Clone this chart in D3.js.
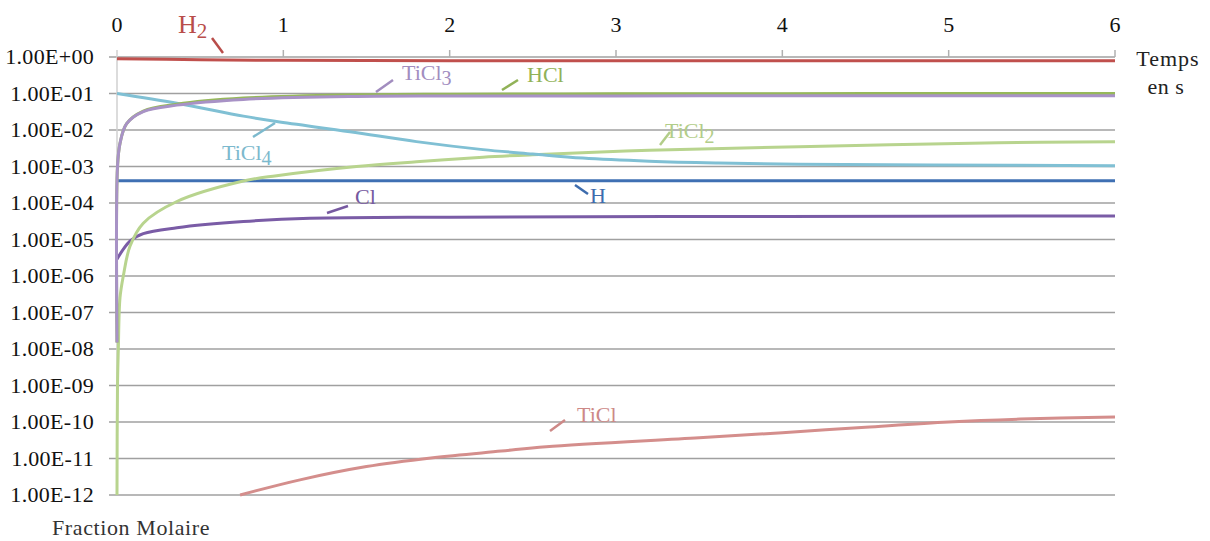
<!DOCTYPE html>
<html>
<head>
<meta charset="utf-8">
<script src="https://cdn.jsdelivr.net/npm/d3@7"></script>
<style>
  html, body { margin: 0; padding: 0; background: #fff; }
  svg { display: block; }
</style>
</head>
<body>
<svg id="chart" width="1210" height="541"></svg>
<script>
// ---------- DATA ----------
const xTicks = [0, 1, 2, 3, 4, 5, 6];
const yTickExps = [0, -1, -2, -3, -4, -5, -6, -7, -8, -9, -10, -11, -12];
const yTickLabels = ["1.00E+00","1.00E-01","1.00E-02","1.00E-03","1.00E-04","1.00E-05","1.00E-06",
                     "1.00E-07","1.00E-08","1.00E-09","1.00E-10","1.00E-11","1.00E-12"];

const tH2 = [0, 0.5, 1, 2, 4, 6];
const vH2 = [0.9, 0.84, 0.81, 0.79, 0.787, 0.785];

const tHCl = [0, 0.003, 0.018, 0.058, 0.158, 0.36, 0.76, 1.44, 2, 3, 4, 5, 6];
const vHCl = [1.5e-8, 1e-3, 4.3e-3, 0.015, 0.033, 0.051, 0.075, 0.092, 0.096, 0.098, 0.099, 0.1, 0.1];

const tTiCl3 = [0, 0.003, 0.018, 0.058, 0.158, 0.36, 0.76, 1.44, 2, 3, 4, 5, 6];
const vTiCl3 = [1.5e-8, 1e-3, 4.3e-3, 0.015, 0.032, 0.048, 0.069, 0.083, 0.085, 0.086, 0.087, 0.087, 0.087];

const tTiCl4 = [0, 0.36, 0.76, 0.96, 1.4, 1.8, 2.2, 2.5, 2.8, 3.2, 3.6, 4.1, 4.9, 6];
const vTiCl4 = [0.1, 0.054, 0.024, 0.017, 0.009, 0.0048, 0.0029, 0.0022, 0.0017, 0.0014, 0.00125, 0.00115, 0.0011, 0.00105];

const tTiCl2 = [0, 0.003, 0.008, 0.018, 0.038, 0.078, 0.158, 0.36, 0.76, 0.96, 1.44, 1.8, 2.2, 2.5, 3.2, 4.1, 5.3, 6];
const vTiCl2 = [1e-12, 1e-9, 1e-8, 2.5e-7, 1e-6, 6.5e-6, 2.8e-5, 1.1e-4, 4e-4, 5.6e-4, 1.0e-3, 1.35e-3, 1.8e-3, 2.1e-3, 2.8e-3, 3.5e-3, 4.5e-3, 4.8e-3];

const tH = [0, 6];
const vH = [4.1e-4, 4.1e-4];

const tCl = [0, 0.078, 0.158, 0.36, 0.76, 1.16, 2, 4, 6];
const vCl = [2.9e-6, 9e-6, 1.45e-5, 2.1e-5, 3.1e-5, 3.8e-5, 4.1e-5, 4.3e-5, 4.4e-5];

const tTiCl = [0.74, 1.1, 1.5, 1.9, 2.31, 2.58, 3.5, 4.0, 4.5, 5.0, 5.43, 6];
const vTiCl = [1e-12, 2.6e-12, 6e-12, 1.05e-11, 1.6e-11, 2.1e-11, 3.7e-11, 5.1e-11, 7.2e-11, 1.0e-10, 1.2e-10, 1.38e-10];

const seriesNames = ["TiCl", "Cl", "H", "TiCl2", "TiCl4", "HCl", "TiCl3", "H2"];
const seriesT = [tTiCl, tCl, tH, tTiCl2, tTiCl4, tHCl, tTiCl3, tH2];
const seriesV = [vTiCl, vCl, vH, vTiCl2, vTiCl4, vHCl, vTiCl3, vH2];
const seriesColors = ["#d48e8c", "#7a5ca6", "#3f70b3", "#b8d48e", "#80c0d4", "#96b85a", "#a892c6", "#c0504d"];

const labelBase = ["TiCl", "Cl", "H", "TiCl", "TiCl", "HCl", "TiCl", "H"];
const labelSub  = ["", "", "", "2", "4", "", "3", "2"];

// ---------- LAYOUT ----------
const FONT = "'Liberation Serif', 'Times New Roman', 'DejaVu Serif', serif";
const svg = d3.select("#chart").attr("font-family", FONT);
const x = d3.scaleLinear().domain([0, 6]).range([117, 1115]);
const y = d3.scaleLog().domain([1e-12, 1]).range([495, 57]);

// gridlines
svg.append("g").selectAll("line").data(yTickExps).join("line")
  .attr("x1", 109).attr("x2", x(6))
  .attr("y1", d => y(Math.pow(10, d))).attr("y2", d => y(Math.pow(10, d)))
  .attr("stroke", "#a0a0a0").attr("stroke-width", 1.5);

// vertical axis line
svg.append("line").attr("x1", x(0)).attr("x2", x(0)).attr("y1", 50).attr("y2", 495)
  .attr("stroke", "#d0d0d0").attr("stroke-width", 1.5);

// top x axis ticks
svg.append("g").selectAll("line").data(xTicks.slice(1)).join("line")
  .attr("x1", d => x(d)).attr("x2", d => x(d)).attr("y1", 50).attr("y2", 57)
  .attr("stroke", "#b0b0b0").attr("stroke-width", 1.5);

// x tick labels
svg.append("g").selectAll("text").data(xTicks).join("text")
  .attr("font-family", FONT)
  .attr("x", d => x(d)).attr("y", 32)
  .attr("text-anchor", "middle").attr("font-size", 22).attr("fill", "#111")
  .text(d => d);

// y tick labels
svg.append("g").selectAll("text").data(yTickExps).join("text")
  .attr("font-family", FONT)
  .attr("x", 94).attr("y", d => y(Math.pow(10, d)) + 7)
  .attr("text-anchor", "end").attr("font-size", 22).attr("fill", "#111")
  .attr("letter-spacing", 0.3)
  .text((d, i) => yTickLabels[i]);

// axis titles
svg.append("text").attr("font-family", FONT).attr("x", 1168).attr("y", 66).attr("text-anchor", "middle")
  .attr("font-size", 22).attr("letter-spacing", 1).attr("fill", "#222").text("Temps");
svg.append("text").attr("font-family", FONT).attr("x", 1166).attr("y", 94).attr("text-anchor", "middle")
  .attr("font-size", 22).attr("letter-spacing", 0.5).attr("fill", "#222").text("en s");
svg.append("text").attr("font-family", FONT).attr("x", 52).attr("y", 535)
  .attr("font-size", 22).attr("letter-spacing", 0.6).attr("fill", "#333").text("Fraction Molaire");

// lines
const line = d3.line().x(d => x(d[0])).y(d => y(d[1])).curve(d3.curveCatmullRom.alpha(0.5));
seriesNames.forEach((name, i) => {
  const pts = seriesT[i].map((t, j) => [t, seriesV[i][j]]);
  svg.append("path").datum(pts)
    .attr("d", line)
    .attr("fill", "none")
    .attr("stroke", seriesColors[i])
    .attr("stroke-width", 3)
    .attr("stroke-linejoin", "round");
});

// labels and leader lines
const labelPos = {
  "TiCl":  {tx: 577, ty: 422, lead: [550, 431, 565, 420]},
  "Cl":    {tx: 355, ty: 204, lead: [327, 213, 348, 206]},
  "H":     {tx: 590, ty: 203, lead: [575, 185, 588, 194]},
  "TiCl2": {tx: 665, ty: 138, lead: [660, 145, 670, 132]},
  "TiCl4": {tx: 222, ty: 160, lead: [253, 137, 275, 123]},
  "HCl":   {tx: 527, ty: 82,  lead: [502, 90, 518, 80]},
  "TiCl3": {tx: 402, ty: 80,  lead: [376, 92, 393, 80]},
  "H2":    {tx: 178, ty: 33,  lead: [212, 38, 223, 53]}
};
seriesNames.forEach((name, i) => {
  const p = labelPos[name];
  const c = d3.color(seriesColors[i]).darker(0.1).formatHex();
  svg.append("line")
    .attr("x1", p.lead[0]).attr("y1", p.lead[1]).attr("x2", p.lead[2]).attr("y2", p.lead[3])
    .attr("stroke", c).attr("stroke-width", 2.5);
  const big = name === "H2";
  const t = svg.append("text").attr("font-family", FONT).attr("x", p.tx).attr("y", p.ty)
    .attr("font-size", big ? 26 : 22).attr("fill", c);
  t.append("tspan").text(labelBase[i]);
  if (labelSub[i]) t.append("tspan").attr("dy", 5).attr("font-size", big ? 21 : 20).text(labelSub[i]);
});
</script>
</body>
</html>
